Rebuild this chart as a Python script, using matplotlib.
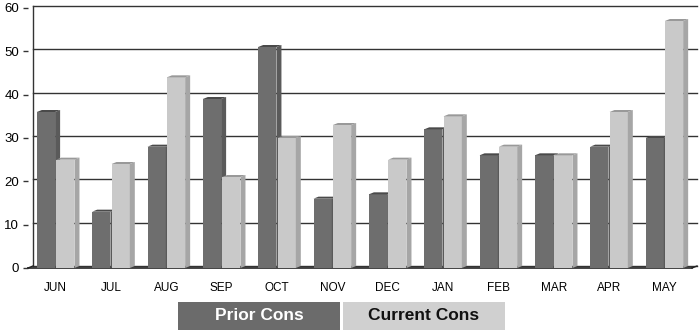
import matplotlib.pyplot as plt
from matplotlib.patches import Polygon, Rectangle
import numpy as np

plt.rcParams['font.family'] = ['Liberation Sans', 'DejaVu Sans']

months = ['JUN', 'JUL', 'AUG', 'SEP', 'OCT', 'NOV', 'DEC', 'JAN', 'FEB', 'MAR', 'APR', 'MAY']
prior_cons = [36, 13, 28, 39, 51, 16, 17, 32, 26, 26, 28, 30]
current_cons = [25, 24, 44, 21, 30, 33, 25, 35, 28, 26, 36, 57]
series_names = ['Prior Cons', 'Current Cons']
yticks = [0, 10, 20, 30, 40, 50, 60]

W, H = 699, 330
fig = plt.figure(figsize=(W / 100, H / 100), dpi=100)
# axes in pixel terms: front x 28..692, y 0 at 268, 60 at 8
ax = fig.add_axes([28 / W, (H - 268) / H, (692 - 28) / W, 260 / H])
ax.set_xlim(0, 12)
ax.set_ylim(0, 60)

# depth of the "3d" wall, in data units
px_x = 12 / (692 - 28)
px_y = 60 / 260
wdx, wdy = 5 * px_x, 2 * px_y
bdx, bdy = 5 * px_x, 2 * px_y

# back wall: left line, gridlines, floor
ax.plot([wdx, wdx], [wdy, 60 + wdy], color='#333333', lw=1, clip_on=False)
for t in yticks:
    ax.plot([wdx, 12 + wdx], [t + wdy, t + wdy], color='#333333', lw=1, clip_on=False, zorder=1)
ax.plot([0, 12], [0, 0], color='#222222', lw=1.2, clip_on=False, zorder=1)
ax.plot([0, wdx], [0, wdy], color='#222222', lw=1, clip_on=False)
ax.plot([12, 12 + wdx], [0, wdy], color='#222222', lw=1, clip_on=False)

x = np.arange(len(months)) + 0.5
bw = 0.33
off = 0.175
styles = [('#6e6e6e', '#5a5a5a', '#4a4a4a'), ('#c9c9c9', '#a6a6a6', '#999999')]

for vals, sgn, (cf, cs, ct) in zip([prior_cons, current_cons], [-1, 1], styles):
    xs = x + sgn * off
    ax.bar(xs, vals, width=bw, color=cf, edgecolor='none', zorder=3)
    for xc, v in zip(xs, vals):
        l, r = xc - bw / 2, xc + bw / 2
        side = Polygon([(r, 0), (r + bdx, bdy), (r + bdx, v + bdy), (r, v)],
                       closed=True, facecolor=cs, edgecolor='none', zorder=3, clip_on=False)
        top = Polygon([(l, v), (l + bdx, v + bdy), (r + bdx, v + bdy), (r, v)],
                      closed=True, facecolor=ct, edgecolor='none', zorder=3, clip_on=False)
        ax.add_patch(side)
        ax.add_patch(top)

for s in ax.spines.values():
    s.set_visible(False)
ax.set_xticks(x)
ax.set_xticklabels(months, fontsize=8.5)
ax.tick_params(axis='x', length=0, pad=10)
ax.set_yticks(yticks)
ax.set_yticklabels([str(t) for t in yticks], fontsize=9.5)
ax.tick_params(axis='y', length=3.5, width=1, color='#333333', pad=3)

# legend boxes below the chart
leg_cols = [('#6b6b6b', 'white'), ('#d0d0d0', '#111111')]
for i, (name, (bg, fg)) in enumerate(zip(series_names, leg_cols)):
    x0 = 178 + i * 165
    fig.patches.append(Rectangle((x0 / W, 0), 162 / W, 28 / H, transform=fig.transFigure,
                                 facecolor=bg, edgecolor='none'))
    fig.text((x0 + 81) / W, 14 / H, name, ha='center', va='center',
             fontsize=12.5, fontweight='bold', color=fg)

fig.savefig('out.png', dpi=100)
